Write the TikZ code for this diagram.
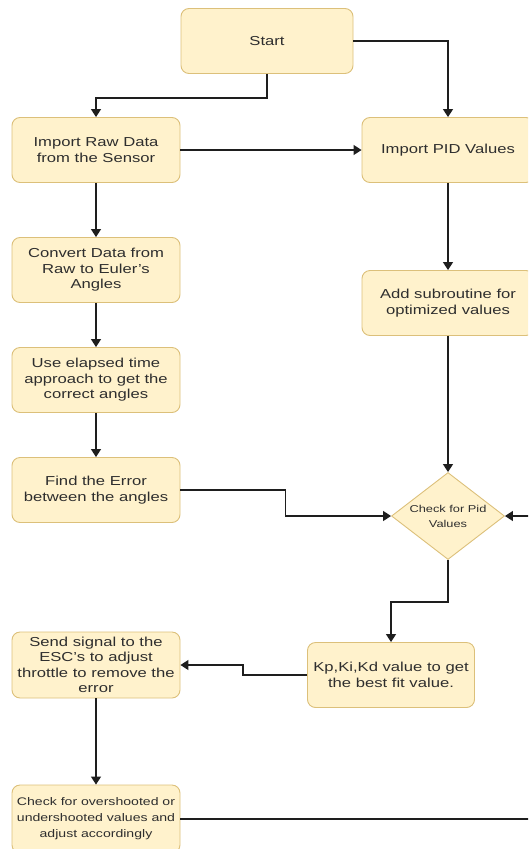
\documentclass[tikz,border=0pt]{standalone}
\usepackage{fontspec}
\setmainfont[FakeStretch=1.28]{Liberation Sans}
\usepackage{xcolor}
\usetikzlibrary{shapes.geometric, arrows.meta, positioning}
\definecolor{boxfill}{HTML}{FFF2CC}
\definecolor{boxline}{HTML}{DCC07A}
\definecolor{boxtext}{HTML}{2E2E2E}
\definecolor{linkline}{HTML}{1E1E1E}
\tikzset{
  process/.style={
    rectangle,
    rounded corners=8pt,
    minimum width=168pt,
    minimum height=65pt,
    text centered,
    align=center,
    draw=boxline,
    fill=boxfill,
    text=boxtext,
    line width=0.9pt,
    font=\fontsize{13}{15.5}\selectfont
  },
  smallprocess/.style={
    process,
    font=\fontsize{11}{16}\selectfont
  },
  decision/.style={
    diamond,
    aspect=1.3,
    inner sep=0pt,
    minimum width=113pt,
    minimum height=87pt,
    align=center,
    draw=boxline,
    fill=boxfill,
    text=boxtext,
    line width=0.9pt,
    font=\fontsize{10}{15}\selectfont
  },
  flow/.style={
    line width=1.3pt,
    draw=linkline,
    -{Triangle[length=8pt,width=10pt]}
  }
}
\begin{document}
\begin{tikzpicture}[x=1pt, y=-1pt]

  \useasboundingbox (0,0) rectangle (528,849);
  \clip (0,0) rectangle (528,849);

  % Left column
  \node (start) [process, minimum width=172pt] at (267,41) {Start};
  \node (raw) [process] at (96,150) {Import Raw Data\\from the Sensor};
  \node (conv) [process] at (96,270) {Convert Data from\\Raw to Euler's\\Angles};
  \node (elap) [process] at (96,380) {Use elapsed time\\approach to get the\\correct angles};
  \node (err) [process] at (96,490) {Find the Error\\between the angles};
  \node (esc) [process, minimum height=66pt] at (96,665) {Send signal to the\\ESC's to adjust\\throttle to remove the\\error};
  \node (over) [smallprocess, minimum height=68pt] at (96,819) {Check for overshooted or\\undershooted values and\\adjust accordingly};

  % Right column
  \node (pid) [process, minimum width=172pt] at (448,150) {Import PID Values};
  \node (sub) [process, minimum width=172pt] at (448,303) {Add subroutine for\\optimized values};
  \node (chk) [decision] at (448,516) {Check for Pid\\Values};
  \node (kp) [process, minimum width=167pt] at (391,675) {Kp,Ki,Kd value to get\\the best fit value.};

  % Connectors
  \draw[flow] (start.south) -- ++(0,24) -| (raw.north);
  \draw[flow] (start.east) -| (pid.north);
  \draw[flow] (raw.east) -- (pid.west);
  \draw[flow] (raw.south) -- (conv.north);
  \draw[flow] (conv.south) -- (elap.north);
  \draw[flow] (elap.south) -- (err.north);
  \draw[flow] (pid.south) -- (sub.north);
  \draw[flow] (sub.south) -- (chk.north);
  \draw[flow] (err.east) -- ++(105,0) |- (chk.west);
  \draw[flow] (chk.south) -- ++(0,42) -| (kp.north);
  \draw[flow] (kp.west) -- ++(-64,0) |- (esc.east);
  \draw[flow] (esc.south) -- (over.north);

  % Loop back into the check
  \draw[flow] (over.east) -- ++(380,0) |- (chk.east);

\end{tikzpicture}
\end{document}
